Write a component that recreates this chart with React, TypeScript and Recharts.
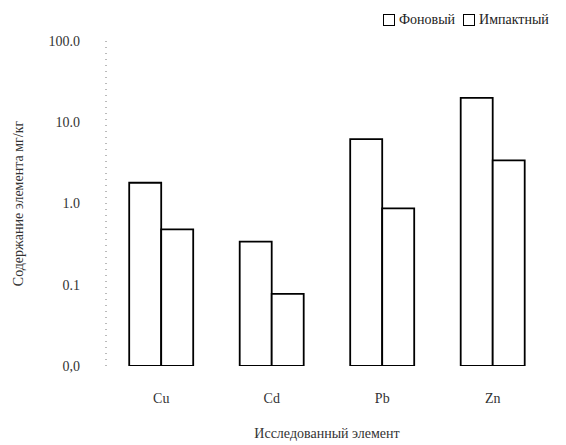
import React from 'react'
import { BarChart, Bar, XAxis, YAxis, Legend } from 'recharts'

const elements = ['Cu', 'Cd', 'Pb', 'Zn']
const background = [1.8, 0.34, 6.2, 20]
const impact = [0.48, 0.077, 0.87, 3.4]
const yTicks = [0.01, 0.1, 1, 10, 100]
const yTickLabels = ['0,0', '0.1', '1.0', '10.0', '100.0']

const data = elements.map((name, i) => ({ name, background: background[i], impact: impact[i] }))

const FONT = "'Liberation Serif', 'Times New Roman', 'DejaVu Serif', serif"

function LegendBox() {
  const item = (label: string) => (
    <span style={{ display: 'inline-flex', alignItems: 'center', marginRight: 8 }}>
      <span
        style={{
          display: 'inline-block',
          width: 10,
          height: 10,
          border: '1.5px solid #000',
          marginRight: 4
        }}
      />
      {label}
    </span>
  )
  return (
    <div style={{ fontFamily: FONT, fontSize: 14, color: '#222', whiteSpace: 'nowrap' }}>
      {item('Фоновый')}
      {item('Импактный')}
    </div>
  )
}

export default function App() {
  return (
    <div style={{ width: 558, height: 437, background: '#fff', fontFamily: FONT }}>
      <BarChart
        width={558}
        height={437}
        data={data}
        margin={{ top: 15, right: 18, bottom: 49, left: 8 }}
        barCategoryGap="21%"
        barGap={0}
        style={{ fontFamily: FONT }}
      >
        <XAxis
          dataKey="name"
          axisLine={false}
          tickLine={false}
          tickMargin={21}
          tick={{ fontFamily: FONT, fontSize: 14, fill: '#333' }}
          label={{
            value: 'Исследованный элемент',
            position: 'insideBottom',
            offset: -42,
            style: { fontFamily: FONT, fontSize: 14, fill: '#333' }
          }}
        />
        <YAxis
          scale="log"
          domain={[0.01, 100]}
          ticks={yTicks}
          allowDataOverflow
          width={90}
          tickLine={false}
          axisLine={{ stroke: '#777', strokeDasharray: '1 5' }}
          tickMargin={20}
          tickFormatter={(v: number) => yTickLabels[yTicks.indexOf(v)] ?? String(v)}
          tick={{ fontFamily: FONT, fontSize: 14, fill: '#333' }}
          label={{
            value: 'Содержание элемента мг/кг',
            angle: -90,
            position: 'insideLeft',
            offset: 2,
            style: { fontFamily: FONT, fontSize: 14, fill: '#333', textAnchor: 'middle' }
          }}
        />
        <Legend
          verticalAlign="top"
          align="left"
          content={() => <LegendBox />}
          wrapperStyle={{ top: 4, left: 375, right: 'auto', width: 190, textAlign: 'left' }}
        />
        <Bar dataKey="background" name="Фоновый" fill="#fff" stroke="#000" strokeWidth={1.8} isAnimationActive={false} />
        <Bar dataKey="impact" name="Импактный" fill="#fff" stroke="#000" strokeWidth={1.8} isAnimationActive={false} />
      </BarChart>
    </div>
  )
}
